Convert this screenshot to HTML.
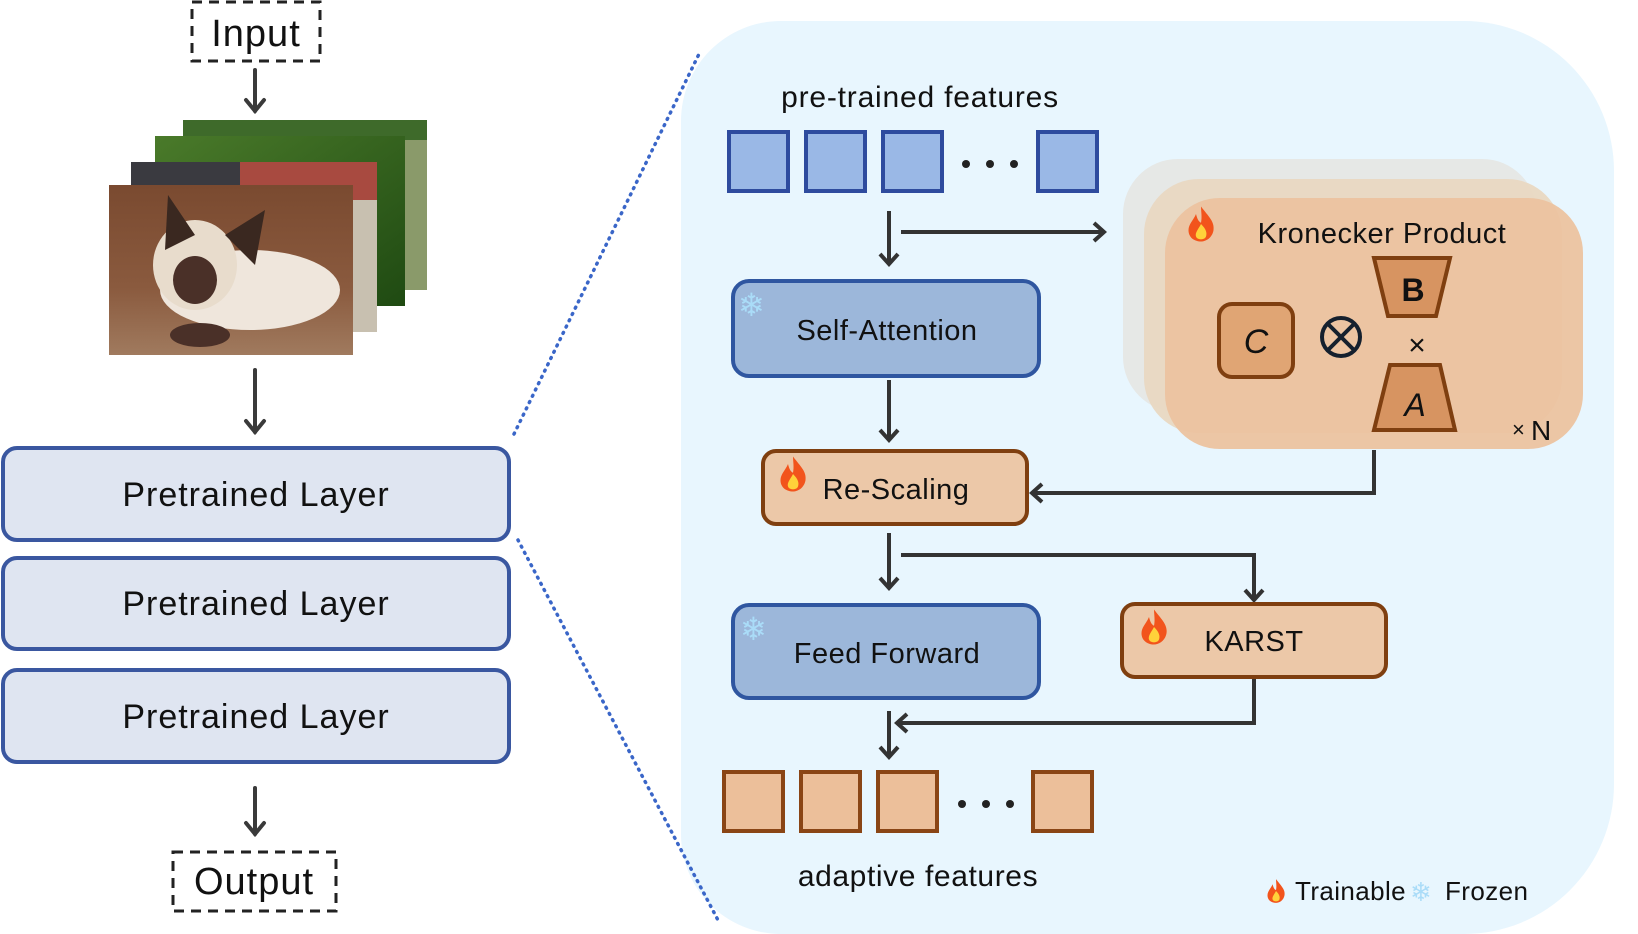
<!DOCTYPE html>
<html><head><meta charset="utf-8"><style>
html,body{margin:0;padding:0;background:#fff;}
svg{display:block;}
text{font-family:"Liberation Sans",sans-serif;fill:#111;}
</style></head><body>
<svg width="1638" height="934" viewBox="0 0 1638 934" xmlns="http://www.w3.org/2000/svg">
<defs>
<linearGradient id="cat" x1="0" y1="0" x2="0" y2="1"><stop offset="0" stop-color="#7a4a30"/><stop offset="0.6" stop-color="#8a5a3e"/><stop offset="1" stop-color="#a07a5e"/></linearGradient>
<linearGradient id="grass" x1="0" y1="0" x2="1" y2="1"><stop offset="0" stop-color="#4a7a2a"/><stop offset="1" stop-color="#1f4a12"/></linearGradient>
<g id="flame"><path d="M0,-14 C6,-6 11,-2 10,5 C9,11 4,14 0,14 C-5,14 -10,11 -10,5 C-10,0 -6,-3 -4,-8 C-3,-4 -2,-2 0,-1 C1,-6 0,-10 0,-14Z" fill="#f2541c"/><path d="M0,0 C4,4 5,7 4,10 C3,13 -3,13 -4,10 C-5,7 -2,4 0,0Z" fill="#ffd23a"/></g>
</defs>

<!-- Left column -->
<rect x="192" y="2" width="128" height="59" fill="none" stroke="#222" stroke-width="3" stroke-dasharray="10,7"/>
<text x="256" y="46" font-size="38" text-anchor="middle" letter-spacing="1">Input</text>
<g stroke="#3a3a3a" stroke-width="4" fill="none" stroke-linecap="round">
<line x1="255" y1="70" x2="255" y2="111"/><polyline points="246,100 255,111 264,100"/>
<line x1="255" y1="370" x2="255" y2="432"/><polyline points="246,421 255,432 264,421"/>
<line x1="255" y1="788" x2="255" y2="834"/><polyline points="246,823 255,834 264,823"/>
</g>
<rect x="183" y="120" width="244" height="170" fill="#8a9a6a"/>
<rect x="183" y="120" width="244" height="20" fill="#3e6a2a"/>
<rect x="155" y="136" width="250" height="170" fill="url(#grass)"/>
<rect x="131" y="162" width="246" height="170" fill="#3a3a40"/>
<rect x="240" y="162" width="137" height="40" fill="#a84a40"/>
<rect x="200" y="200" width="177" height="132" fill="#c8c0b0"/>
<rect x="109" y="185" width="244" height="170" fill="url(#cat)"/>
<ellipse cx="250" cy="290" rx="90" ry="40" fill="#efe6dc"/>
<ellipse cx="195" cy="265" rx="42" ry="45" fill="#e8dccc"/>
<ellipse cx="195" cy="280" rx="22" ry="24" fill="#4a3028"/>
<polygon points="165,250 168,195 195,235" fill="#3a2820"/>
<polygon points="225,235 265,210 255,265" fill="#3a2820"/>
<ellipse cx="200" cy="335" rx="30" ry="12" fill="#4a3028"/>

<g stroke="#3a57a0" stroke-width="4" fill="#dfe5f1">
<rect x="3" y="448" width="506" height="92" rx="14"/>
<rect x="3" y="558" width="506" height="91" rx="14"/>
<rect x="3" y="670" width="506" height="92" rx="14"/>
</g>
<text x="256" y="506" font-size="34" text-anchor="middle" letter-spacing="1">Pretrained Layer</text>
<text x="256" y="615" font-size="34" text-anchor="middle" letter-spacing="1">Pretrained Layer</text>
<text x="256" y="728" font-size="34" text-anchor="middle" letter-spacing="1">Pretrained Layer</text>
<rect x="173" y="852" width="163" height="59" fill="none" stroke="#222" stroke-width="3" stroke-dasharray="10,7"/>
<text x="254" y="894" font-size="38" text-anchor="middle" letter-spacing="1">Output</text>

<!-- Panel -->
<path d="M781,21 H1464 A150,150 0 0 1 1614,171 V784 A150,150 0 0 1 1464,934 H781 A100,100 0 0 1 681,834 V121 A100,100 0 0 1 781,21Z" fill="#e8f6fe"/>

<!-- dotted lines -->
<g stroke="#3a66c8" stroke-width="3.5" stroke-dasharray="1,6" stroke-linecap="round" fill="none">
<line x1="514" y1="434" x2="699" y2="54"/>
<line x1="518" y1="540" x2="719" y2="922"/>
</g>

<text x="920" y="107" font-size="30" text-anchor="middle" letter-spacing="0.8">pre-trained features</text>
<g fill="#9ab8e6" stroke="#2e4b9e" stroke-width="4">
<rect x="729" y="132" width="59" height="59"/><rect x="806" y="132" width="59" height="59"/><rect x="883" y="132" width="59" height="59"/><rect x="1038" y="132" width="59" height="59"/>
</g>
<g fill="#222"><circle cx="966" cy="164" r="4"/><circle cx="990" cy="164" r="4"/><circle cx="1014" cy="164" r="4"/></g>

<!-- Kronecker stack -->
<rect x="1123" y="159" width="414" height="253" rx="55" fill="#e6e8e6"/>
<rect x="1144" y="179" width="418" height="254" rx="55" fill="#e9d8c2" opacity="0.95"/>
<rect x="1165" y="198" width="418" height="251" rx="55" fill="#ecc3a0" opacity="0.95"/>
<use href="#flame" transform="translate(1201,224) scale(1.25)"/>
<text x="1382" y="243" font-size="29" text-anchor="middle" letter-spacing="0.5">Kronecker Product</text>
<rect x="1219" y="304" width="74" height="73" rx="13" fill="#e0a574" stroke="#7f3f10" stroke-width="4"/>
<text x="1256" y="353" font-size="34" text-anchor="middle" font-style="italic">C</text>
<circle cx="1341" cy="337" r="19" fill="none" stroke="#15202e" stroke-width="4"/>
<g stroke="#15202e" stroke-width="4"><line x1="1328" y1="324" x2="1354" y2="350"/><line x1="1354" y1="324" x2="1328" y2="350"/></g>
<polygon points="1374,258 1450,258 1436,316 1388,316" fill="#d79461" stroke="#7f3f10" stroke-width="4"/>
<text x="1413" y="301" font-size="32" text-anchor="middle" font-weight="bold">B</text>
<text x="1417" y="355" font-size="30" text-anchor="middle">×</text>
<polygon points="1390,365 1440,365 1455,430 1374,430" fill="#d79461" stroke="#7f3f10" stroke-width="4"/>
<text x="1415" y="416" font-size="32" text-anchor="middle" font-style="italic">A</text>
<text x="1512" y="437" font-size="22">×</text>
<text x="1531" y="440" font-size="28">N</text>

<!-- connectors -->
<g stroke="#333" stroke-width="4" fill="none">
<line x1="889" y1="211" x2="889" y2="264"/><polyline points="880,254 889,264 898,254"/>
<line x1="901" y1="232" x2="1104" y2="232"/><polyline points="1094,223 1104,232 1094,241"/>
<line x1="889" y1="380" x2="889" y2="440"/><polyline points="880,430 889,440 898,430"/>
<polyline points="1374,450 1374,493 1032,493"/><polyline points="1042,484 1032,493 1042,502"/>
<line x1="889" y1="533" x2="889" y2="588"/><polyline points="880,578 889,588 898,578"/>
<polyline points="901,555 1254,555 1254,600"/><polyline points="1245,590 1254,600 1263,590"/>
<polyline points="1254,678 1254,723 897,723"/><polyline points="907,714 897,723 907,732"/>
<line x1="889" y1="711" x2="889" y2="757"/><polyline points="880,747 889,757 898,747"/>
</g>

<!-- boxes -->
<rect x="733" y="281" width="306" height="95" rx="16" fill="#9cb7da" stroke="#2f56a0" stroke-width="4"/>
<text x="738" y="316" font-size="32" style="fill:#aadcf8">❄</text>
<text x="887" y="340" font-size="29" text-anchor="middle" letter-spacing="0.5">Self-Attention</text>
<rect x="763" y="451" width="264" height="73" rx="13" fill="#ecc8a8" stroke="#7f3f10" stroke-width="4"/>
<use href="#flame" transform="translate(793,474) scale(1.25)"/>
<text x="896" y="499" font-size="29" text-anchor="middle" letter-spacing="0.5">Re-Scaling</text>
<rect x="733" y="605" width="306" height="93" rx="16" fill="#9cb7da" stroke="#2f56a0" stroke-width="4"/>
<text x="740" y="640" font-size="32" style="fill:#aadcf8">❄</text>
<text x="887" y="663" font-size="29" text-anchor="middle" letter-spacing="0.5">Feed Forward</text>
<rect x="1122" y="604" width="264" height="73" rx="13" fill="#ecc8a8" stroke="#7f3f10" stroke-width="4"/>
<use href="#flame" transform="translate(1154,627) scale(1.25)"/>
<text x="1254" y="651" font-size="29" text-anchor="middle" letter-spacing="0.5">KARST</text>

<g fill="#ecbf9a" stroke="#8a4515" stroke-width="4">
<rect x="724" y="772" width="59" height="59"/><rect x="801" y="772" width="59" height="59"/><rect x="878" y="772" width="59" height="59"/><rect x="1033" y="772" width="59" height="59"/>
</g>
<g fill="#222"><circle cx="962" cy="804" r="4"/><circle cx="986" cy="804" r="4"/><circle cx="1010" cy="804" r="4"/></g>
<text x="918" y="886" font-size="30" text-anchor="middle" letter-spacing="0.6">adaptive features</text>

<use href="#flame" transform="translate(1276,891) scale(0.85)"/>
<text x="1295" y="900" font-size="26" letter-spacing="0.4">Trainable</text>
<text x="1410" y="901" font-size="26" style="fill:#aadcf8">❄</text>
<text x="1445" y="900" font-size="26" letter-spacing="0.4">Frozen</text>
</svg>
</body></html>
